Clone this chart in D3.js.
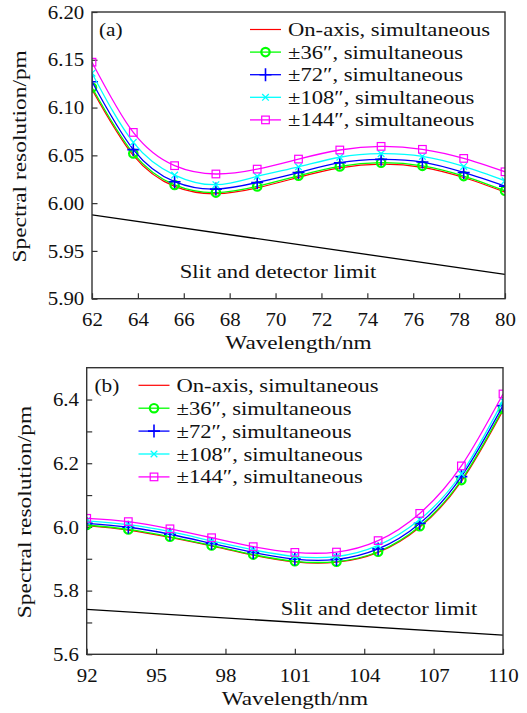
<!DOCTYPE html>
<html><head><meta charset="utf-8">
<script src="https://cdn.jsdelivr.net/npm/d3@7"></script>
<style>html,body{margin:0;padding:0;background:#fff}svg{display:block}</style>
</head><body>
<script>
// ---------- DATA ----------
const seriesNames = ["On-axis, simultaneous", "\u00b136\u2033, simultaneous", "\u00b172\u2033, simultaneous", "\u00b1108\u2033, simultaneous", "\u00b1144\u2033, simultaneous"];
const seriesColors = ["#ff0000", "#00ff00", "#0000ff", "#00ffff", "#ff00ff"];
const seriesMarkers = ["none", "circle", "plus", "cross", "square"];

const wavelengthA = [62, 63.8, 65.6, 67.4, 69.2, 71, 72.8, 74.6, 76.4, 78.2, 80];
const onAxisA = [6.119, 6.050, 6.0175, 6.0098, 6.016, 6.027, 6.0368, 6.0408, 6.0375, 6.0268, 6.0115];
const s36A  = [6.121, 6.052, 6.019, 6.011, 6.0175, 6.0286, 6.0384, 6.0423, 6.039, 6.0283, 6.0129];
const s72A  = [6.127, 6.056, 6.0224, 6.0147, 6.0216, 6.032, 6.0423, 6.0458, 6.043, 6.0321, 6.0178];
const s108A = [6.136, 6.0636, 6.0294, 6.0193, 6.028, 6.038, 6.048, 6.0517, 6.0489, 6.0384, 6.0234];
const s144A = [6.1475, 6.074, 6.0392, 6.0305, 6.0356, 6.0461, 6.0556, 6.0594, 6.0563, 6.0468, 6.0328];
const limitWavelengthA = [62, 80];
const limitA = [5.9877, 5.9255];
const xTicksA = [62, 64, 66, 68, 70, 72, 74, 76, 78, 80];
const yTicksA = [5.90, 5.95, 6.00, 6.05, 6.10, 6.15, 6.20];

const wavelengthB = [92, 93.8, 95.6, 97.4, 99.2, 101, 102.8, 104.6, 106.4, 108.2, 110];
const onAxisB = [6.004, 5.990, 5.967, 5.940, 5.911, 5.890, 5.889, 5.920, 5.999, 6.143, 6.366];
const s36B  = [6.006, 5.992, 5.969, 5.942, 5.913, 5.892, 5.891, 5.922, 6.002, 6.147, 6.371];
const s72B  = [6.011, 5.999, 5.977, 5.948, 5.920, 5.899, 5.898, 5.931, 6.011, 6.158, 6.381];
const s108B = [6.019, 6.007, 5.985, 5.956, 5.928, 5.907, 5.907, 5.942, 6.023, 6.167, 6.396];
const s144B = [6.027, 6.0166, 5.994, 5.966, 5.938, 5.920, 5.921, 5.957, 6.0425, 6.1916, 6.4175];
const limitWavelengthB = [92, 110];
const limitB = [5.741, 5.660];
const xTicksB = [92, 95, 98, 101, 104, 107, 110];
const yTicksB = [5.6, 5.7, 5.8, 5.9, 6.0, 6.1, 6.2, 6.3, 6.4];
const yLabelsB = [5.6, 5.8, 6.0, 6.2, 6.4];

// ---------- DRAW ----------
const W = 527, H = 713;
const FONT = `"Liberation Serif"`;
const svg = d3.select("body").append("svg").attr("width", W).attr("height", H);

function sText(g, x, y, str, anchor, size, sx, rotate) {
  return g.append("text")
    .attr("transform", `translate(${x},${y})` + (rotate ? ` rotate(${rotate})` : "") + ` scale(${sx},1)`)
    .attr("text-anchor", anchor)
    .style("font-family", FONT)
    .style("font-size", size + "px")
    .attr("fill", "#111")
    .text(str);
}

function drawMarker(g, type, color, cx, cy) {
  if (type === "circle") {
    g.append("circle").attr("cx", cx).attr("cy", cy).attr("r", 4.2)
      .attr("fill", "none").attr("stroke", color).attr("stroke-width", 2.2);
  } else if (type === "plus") {
    g.append("path").attr("d", `M${cx-6},${cy}H${cx+6}M${cx},${cy-6.5}V${cy+6.5}`)
      .attr("stroke", color).attr("stroke-width", 1.6).attr("fill", "none");
  } else if (type === "cross") {
    g.append("path").attr("d", `M${cx-3.3},${cy-3.3}L${cx+3.3},${cy+3.3}M${cx-3.3},${cy+3.3}L${cx+3.3},${cy-3.3}`)
      .attr("stroke", color).attr("stroke-width", 1.3).attr("fill", "none");
  } else if (type === "square") {
    g.append("rect").attr("x", cx-3.8).attr("y", cy-3.8).attr("width", 7.6).attr("height", 7.6)
      .attr("fill", "none").attr("stroke", color).attr("stroke-width", 1.2);
  }
}

function panel(cfg) {
  const x = d3.scaleLinear().domain(cfg.xDomain).range([cfg.left, cfg.right]);
  const y = d3.scaleLinear().domain(cfg.yDomain).range([cfg.bottom, cfg.top]);
  const g = svg.append("g");
  const clipId = "clip" + cfg.id;
  svg.append("clipPath").attr("id", clipId).append("rect")
    .attr("x", cfg.left).attr("y", cfg.top)
    .attr("width", cfg.right - cfg.left).attr("height", cfg.bottom - cfg.top);

  // axes (ticks inward)
  const xAxis = d3.axisBottom(x).tickValues(cfg.xTicks).tickSize(-5.5).tickPadding(14)
    .tickFormat(d3.format("d"));
  const gx = g.append("g").attr("transform", `translate(0,${cfg.bottom})`).call(xAxis);
  const yAxis = d3.axisLeft(y).tickValues(cfg.yTicks).tickSize(-5.5).tickPadding(7)
    .tickFormat(cfg.yFormat);
  const gy = g.append("g").attr("transform", `translate(${cfg.left},0)`).call(yAxis);
  [gx, gy].forEach(a => {
    a.select(".domain").remove();
    a.selectAll(".tick line").attr("stroke", "#333").attr("stroke-width", 1.2);
    a.selectAll(".tick text").style("font-size", "19px").attr("fill", "#111")
      .style("font-family", FONT).attr("transform", "scale(1.1,1)");
  });

  const plot = g.append("g").attr("clip-path", `url(#${clipId})`);
  // limit line
  const limitLine = d3.line().x((d, i) => x(cfg.limitX[i])).y(d => y(d));
  plot.append("path").attr("d", limitLine(cfg.limit)).attr("fill", "none")
    .attr("stroke", "#000").attr("stroke-width", 1.3);

  const line = d3.line().x((d, i) => x(cfg.xs[i])).y(d => y(d)).curve(d3.curveNatural);
  cfg.series.forEach((vals, si) => {
    plot.append("path").attr("d", line(vals)).attr("fill", "none")
      .attr("stroke", seriesColors[si]).attr("stroke-width", si === 0 ? 1.2 : 1.3);
    vals.forEach((v, i) => drawMarker(plot, seriesMarkers[si], seriesColors[si], x(cfg.xs[i]), y(v)));
  });

  // frame
  g.append("rect").attr("x", cfg.left).attr("y", cfg.top)
    .attr("width", cfg.right - cfg.left).attr("height", cfg.bottom - cfg.top)
    .attr("fill", "none").attr("stroke", "#333").attr("stroke-width", 1.4);

  // legend
  cfg.series.forEach((vals, si) => {
    const ly = cfg.legendY + si * cfg.legendStep;
    g.append("line").attr("x1", cfg.legendX).attr("x2", cfg.legendX + 31)
      .attr("y1", ly).attr("y2", ly).attr("stroke", seriesColors[si]).attr("stroke-width", si === 0 ? 1.2 : 1.3);
    drawMarker(g, seriesMarkers[si], seriesColors[si], cfg.legendX + 15.5, ly);
    sText(g, cfg.legendX + 38, ly + 6.5, seriesNames[si], "start", 19, 1.19);
  });

  sText(g, cfg.tagX, cfg.tagY, cfg.tag, "start", 19, 1.12);
  sText(g, cfg.limitTextX, cfg.limitTextY, "Slit and detector limit", "middle", 19, 1.19);
  sText(g, (cfg.left + cfg.right) / 2, cfg.bottom + 50.5, "Wavelength/nm", "middle", 19.5, 1.19);
  sText(g, cfg.yLabelX, (cfg.top + cfg.bottom) / 2 + 1, "Spectral resolution/pm", "middle", 19.5, 1.2, -90);
}

panel({
  id: "a", xDomain: [62, 80], yDomain: [5.90, 6.20],
  left: 92, right: 505, top: 12, bottom: 298.7,
  xTicks: xTicksA, yTicks: yTicksA, yFormat: d3.format(".2f"),
  xs: wavelengthA, series: [onAxisA, s36A, s72A, s108A, s144A],
  limitX: limitWavelengthA, limit: limitA,
  legendX: 250, legendY: 29.5, legendStep: 22.6,
  tag: "(a)", tagX: 99, tagY: 36,
  limitTextX: 278, limitTextY: 277.5,
  yLabelX: 26
});

panel({
  id: "b", xDomain: [92, 110], yDomain: [5.6, 6.5],
  left: 86.7, right: 503, top: 367.7, bottom: 654.3,
  xTicks: xTicksB, yTicks: yTicksB,
  yFormat: d => yLabelsB.some(v => Math.abs(v - d) < 1e-9) ? d3.format(".1f")(d) : "",
  xs: wavelengthB, series: [onAxisB, s36B, s72B, s108B, s144B],
  limitX: limitWavelengthB, limit: limitB,
  legendX: 138.5, legendY: 385.3, legendStep: 22.9,
  tag: "(b)", tagX: 94.5, tagY: 392,
  limitTextX: 379, limitTextY: 614.5,
  yLabelX: 31
});
</script>
</body></html>
